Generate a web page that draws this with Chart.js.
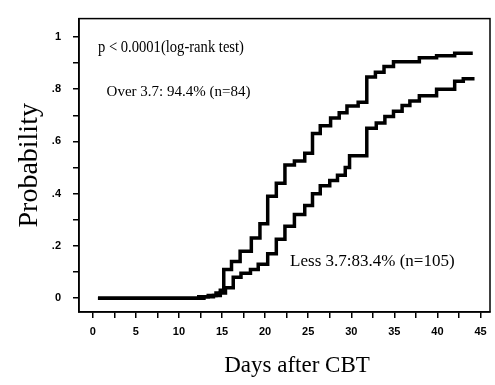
<!DOCTYPE html>
<html>
<head>
<meta charset="utf-8">
<script src="https://cdn.jsdelivr.net/npm/chart.js@4"></script>
<style>
  body { margin: 0; background: #fff; }
  #wrap { width: 495px; height: 385px; }
</style>
</head>
<body>
<div id="wrap"><canvas id="kmChart"></canvas></div>
<script>
// Cumulative probability step curves
const overDays = [0.6, 12.3, 13.4, 14.3, 14.8, 15.2, 16.1, 17.1, 18.4, 19.4, 20.3, 21.3, 22.3, 23.4, 24.6, 25.5, 26.4, 27.6, 28.6, 29.5, 30.8, 31.8, 32.8, 33.8, 34.9, 37.9, 39.9, 42.0, 44.1];
const overProb = [0, 0.005, 0.01, 0.02, 0.03, 0.11, 0.14, 0.18, 0.23, 0.285, 0.39, 0.44, 0.51, 0.525, 0.555, 0.63, 0.66, 0.69, 0.71, 0.735, 0.75, 0.846, 0.865, 0.887, 0.905, 0.92, 0.928, 0.937, 0.937];

const lessDays = [0.6, 12.9, 14.0, 14.8, 15.4, 16.3, 17.2, 18.3, 19.2, 20.3, 21.3, 22.3, 23.4, 24.6, 25.5, 26.4, 27.5, 28.4, 29.3, 29.8, 31.8, 32.9, 33.9, 34.9, 35.9, 36.8, 37.9, 39.9, 42.0, 43.0, 44.1];
const lessProb = [0, 0.005, 0.01, 0.02, 0.04, 0.08, 0.095, 0.11, 0.13, 0.17, 0.225, 0.275, 0.32, 0.355, 0.40, 0.43, 0.45, 0.47, 0.50, 0.545, 0.65, 0.67, 0.695, 0.715, 0.737, 0.755, 0.775, 0.80, 0.83, 0.84, 0.846];

const xTicks = [0, 5, 10, 15, 20, 25, 30, 35, 40, 45];
const yTicks = [0, 0.2, 0.4, 0.6, 0.8, 1];
const yTickLabels = ['0', '.2', '.4', '.6', '.8', '1'];

const notes = [
    { text: 'p < 0.0001(log-rank test)', x: 0.6, y: 0.96, size: 17, maxWidth: 146 },
    { text: 'Over 3.7: 94.4% (n=84)', x: 1.6, y: 0.79, size: 15 },
    { text: 'Less 3.7:83.4% (n=105)', x: 22.9, y: 0.14, size: 17 }
];
const xTitle = 'Days after CBT';

const serif = '"Liberation Serif", "Times New Roman", serif';
const toPoints = (xs, ys) => xs.map((x, i) => ({ x: x, y: ys[i] }));

// box around the plot, the text notes and the x title
const frameAndNotes = {
    id: 'frameAndNotes',
    afterDraw(chart) {
        const { ctx, chartArea, scales } = chart;
        ctx.save();
        ctx.strokeStyle = '#000';
        ctx.lineWidth = 1.5;
        ctx.strokeRect(chartArea.left, chartArea.top, chartArea.right - chartArea.left, chartArea.bottom - chartArea.top);
        ctx.fillStyle = '#000';
        ctx.textBaseline = 'middle';
        ctx.textAlign = 'left';
        notes.forEach(n => {
            ctx.font = n.size + 'px ' + serif;
            const px = scales.x.getPixelForValue(n.x);
            const py = scales.y.getPixelForValue(n.y);
            if (n.maxWidth) ctx.fillText(n.text, px, py, n.maxWidth);
            else ctx.fillText(n.text, px, py);
        });
        ctx.font = '23px ' + serif;
        ctx.textAlign = 'center';
        ctx.fillText(xTitle, scales.x.getPixelForValue(23.7), 366);
        ctx.restore();
    }
};

const minorTicks = (major, step) => {
    const out = [];
    for (let i = 0; i < major.length; i++) {
        out.push({ value: major[i] });
        if (i < major.length - 1) out.push({ value: major[i] + step / 2, minor: true });
    }
    return out;
};

new Chart(document.getElementById('kmChart'), {
    type: 'line',
    data: {
        datasets: [
            {
                label: 'Over 3.7',
                data: toPoints(overDays, overProb),
                borderColor: '#000',
                borderWidth: 3.5,
                stepped: true,
                pointRadius: 0,
                fill: false
            },
            {
                label: 'Less 3.7',
                data: toPoints(lessDays, lessProb),
                borderColor: '#000',
                borderWidth: 3.5,
                stepped: true,
                pointRadius: 0,
                fill: false
            }
        ]
    },
    options: {
        responsive: true,
        maintainAspectRatio: false,
        animation: false,
        layout: { padding: { top: 13, right: 5, left: 0, bottom: 0 } },
        plugins: { legend: { display: false }, tooltip: { enabled: false } },
        scales: {
            x: {
                type: 'linear',
                min: -1.6,
                max: 46.1,
                afterBuildTicks: (scale) => { scale.ticks = minorTicks(xTicks, 5); },
                afterFit: (scale) => { scale.height = 73; },
                grid: { drawOnChartArea: false, tickLength: 6, color: '#000', lineWidth: 1.5 },
                border: { color: '#000', width: 1.5 },
                ticks: {
                    color: '#000',
                    padding: 7,
                    maxRotation: 0,
                    autoSkip: false,
                    font: { family: '"Liberation Sans", Arial, sans-serif', size: 11, weight: 'bold' },
                    callback: (v, i, ticks) => ticks[i].minor ? '' : String(v)
                }
            },
            y: {
                type: 'linear',
                min: -0.053,
                max: 1.07,
                afterBuildTicks: (scale) => { scale.ticks = minorTicks(yTicks, 0.2); },
                afterFit: (scale) => { scale.width = 79; },
                grid: { drawOnChartArea: false, tickLength: 6, color: '#000', lineWidth: 1.5 },
                border: { color: '#000', width: 1.5 },
                ticks: {
                    color: '#000',
                    padding: 12,
                    autoSkip: false,
                    font: { family: '"Liberation Sans", Arial, sans-serif', size: 11, weight: 'bold' },
                    callback: (v, i, ticks) => {
                        if (ticks[i].minor) return '';
                        const k = yTicks.findIndex(t => Math.abs(t - v) < 1e-6);
                        return k >= 0 ? yTickLabels[k] : '';
                    }
                },
                title: {
                    display: true,
                    text: 'Probability',
                    color: '#000',
                    padding: { top: 13, bottom: 0 },
                    font: { family: serif, size: 28 }
                }
            }
        }
    },
    plugins: [frameAndNotes]
});
</script>
</body>
</html>
